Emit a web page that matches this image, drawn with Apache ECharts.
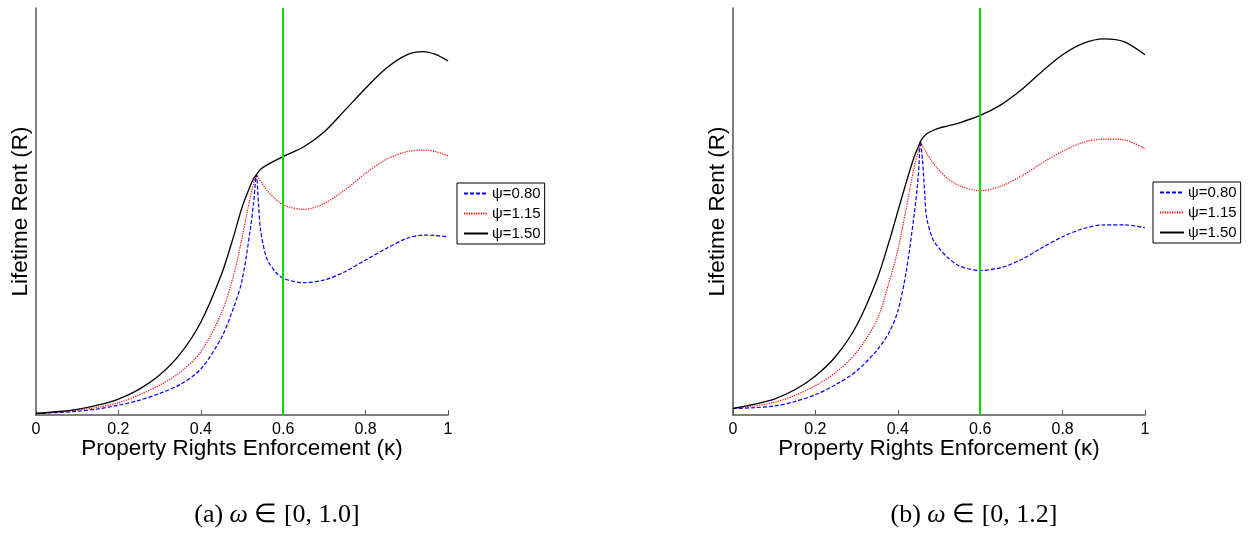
<!DOCTYPE html>
<html>
<head>
<meta charset="utf-8">
<script src="https://cdn.jsdelivr.net/npm/echarts@6/dist/echarts.min.js"></script>
<style>
  html, body { margin: 0; padding: 0; background: #fff; }
  #main { width: 1252px; height: 539px; }
</style>
</head>
<body>
<div id="main"></div>
<script>
// panel (a): omega in [0, 1.0]
var kappaA = [0, 0.05, 0.1, 0.15, 0.2, 0.25, 0.3, 0.35, 0.4, 0.45, 0.48, 0.5, 0.52, 0.528, 0.535, 0.54, 0.545, 0.56, 0.58, 0.6, 0.65, 0.7, 0.75, 0.8, 0.85, 0.9, 0.94, 0.97, 1];
var a080 = [0.4, 0.6, 0.9, 1.5, 2.4, 3.6, 5.3, 7.5, 11.3, 19, 26.5, 33, 45.5, 52, 59, 52, 45.5, 38.5, 35.3, 33.6, 32.5, 33.2, 35.2, 38.1, 40.9, 43.4, 44.2, 44.1, 43.8];
var a115 = [0.4, 0.7, 1.2, 1.9, 3.0, 4.9, 7.3, 10.5, 15.5, 25, 34.5, 43.5, 53.5, 56.8, 59, 58.3, 57.5, 55.3, 53.2, 51.6, 50.5, 52.0, 55.3, 59.4, 62.8, 64.7, 65.1, 64.7, 63.7];
var a150 = [0.4, 0.8, 1.4, 2.4, 3.9, 6.3, 9.8, 15, 22.8, 34.5, 44, 51, 56.3, 58, 59, 59.8, 60.4, 61.4, 62.5, 63.5, 65.9, 69.6, 74.9, 80.3, 85.2, 88.5, 89.3, 88.6, 87.0];

// panel (b): omega in [0, 1.2]
var kappaB = [0, 0.05, 0.1, 0.15, 0.2, 0.25, 0.3, 0.35, 0.38, 0.4, 0.42, 0.44, 0.45, 0.455, 0.46, 0.465, 0.47, 0.485, 0.5, 0.52, 0.55, 0.6, 0.65, 0.7, 0.75, 0.8, 0.85, 0.9, 0.95, 1];
var b080 = [1.6, 1.8, 2.2, 3.3, 5.0, 7.5, 10.8, 16, 20.5, 25.5, 35, 49.5, 59, 67.2, 62.5, 55, 48.5, 43.2, 41, 38.8, 36.6, 35.5, 36.2, 38.2, 41.1, 43.8, 45.8, 46.7, 46.7, 46.0];
var b115 = [1.6, 2.2, 3.1, 4.8, 7.2, 10.5, 15.4, 23.5, 33, 40.5, 50.5, 61, 64.8, 67.2, 66, 65.2, 64.3, 62, 60.2, 58.2, 56.3, 55.1, 56.2, 58.7, 61.9, 64.8, 67.0, 67.8, 67.6, 65.4];
var b150 = [1.6, 2.6, 3.9, 6.2, 9.6, 14.5, 22, 33.5, 43, 50, 57, 63.5, 66, 67.2, 68, 68.6, 69.1, 69.9, 70.5, 71, 71.8, 73.6, 76.2, 79.9, 84.4, 88.5, 91.3, 92.4, 91.7, 88.5];

var names = ['ψ=0.80', 'ψ=1.15', 'ψ=1.50'];
var xTicks = [0, 0.2, 0.4, 0.6, 0.8, 1];
var vline = 0.6;
var captions = ['(a) ', '(b) '];
var ranges = ['[0, 1.0]', '[0, 1.2]'];

function pairs(xs, ys) {
  var out = [];
  for (var i = 0; i < xs.length; i++) out.push([xs[i], ys[i]]);
  return out;
}

var styles = [
  { color: '#0000ff', type: [4, 2], width: 1.2 },
  { color: '#ff0000', type: [1.2, 1.2], width: 1.2 },
  { color: '#000000', type: 'solid', width: 1.3 }
];

function makeSeries(idx, xs, list) {
  var out = [];
  for (var i = 0; i < list.length; i++) {
    out.push({
      name: names[i],
      type: 'line',
      xAxisIndex: idx,
      yAxisIndex: idx,
      data: pairs(xs, list[i]),
      symbol: 'none',
      smooth: 0.3,
      lineStyle: styles[i],
      itemStyle: { color: styles[i].color },
      z: 3
    });
  }
  // green reference line
  out[0].markLine = {
    silent: true,
    symbol: ['none', 'none'],
    label: { show: false },
    lineStyle: { color: '#00e000', width: 2, type: 'solid' },
    data: [{ xAxis: vline }]
  };
  return out;
}

function xAxisOpt(idx) {
  return {
    gridIndex: idx,
    type: 'value',
    min: 0, max: 1, interval: 0.2,
    name: 'Property Rights Enforcement (κ)',
    nameLocation: 'middle',
    nameGap: 22,
    nameMoveOverlap: false,
    nameTextStyle: { fontFamily: 'Liberation Sans', fontSize: 22.5, color: '#000' },
    axisLine: { lineStyle: { color: '#555', width: 1.5 } },
    axisTick: { inside: true, length: 5, lineStyle: { color: '#555' } },
    axisLabel: {
      fontFamily: 'Liberation Sans', fontSize: 16, color: '#000', margin: 7,
      formatter: function (v) { return xTicks.indexOf(v) >= 0 ? String(v) : ''; }
    },
    splitLine: { show: false }
  };
}

function yAxisOpt(idx) {
  return {
    gridIndex: idx,
    type: 'value',
    min: 0, max: 100,
    name: 'Lifetime Rent (R)',
    nameLocation: 'middle',
    nameGap: 4,
    nameMoveOverlap: false,
    nameTextStyle: { fontFamily: 'Liberation Sans', fontSize: 22.5, color: '#000', verticalAlign: 'bottom' },
    axisLine: { show: true, lineStyle: { color: '#555', width: 1.5 } },
    axisTick: { show: false },
    axisLabel: { show: false },
    splitLine: { show: false }
  };
}

function legendOpt(left, top) {
  return {
    data: names,
    orient: 'vertical',
    left: left,
    top: top,
    itemWidth: 24,
    itemHeight: 12,
    itemGap: 5,
    padding: [3, 4, 3, 6],
    borderColor: '#000',
    borderWidth: 1,
    borderRadius: 0,
    backgroundColor: '#fff',
    itemStyle: { opacity: 0 },
    textStyle: { fontFamily: 'Liberation Sans', fontSize: 15, color: '#000', padding: [0, 0, 0, -1] },
    selectedMode: false
  };
}

function captionText(i, cx) {
  return {
    type: 'text',
    x: cx,
    y: 515,
    style: {
      text: captions[i] + '{it|ω} ∈ ' + ranges[i],
      font: '26px "Liberation Serif", serif',
      fill: '#000',
      align: 'center',
      verticalAlign: 'middle',
      rich: {
        it: { font: 'italic 26px "Liberation Serif", serif', fill: '#000' }
      }
    }
  };
}

var chart = echarts.init(document.getElementById('main'), null, { renderer: 'canvas' });
chart.setOption({
  animation: false,
  backgroundColor: '#fff',
  grid: [
    { left: 36, top: 8, width: 412, height: 407 },
    { left: 733, top: 8, width: 412, height: 407 }
  ],
  xAxis: [xAxisOpt(0), xAxisOpt(1)],
  yAxis: [yAxisOpt(0), yAxisOpt(1)],
  legend: [legendOpt(457, 183), legendOpt(1153, 182)],
  series: makeSeries(0, kappaA, [a080, a115, a150]).concat(makeSeries(1, kappaB, [b080, b115, b150])),
  graphic: [captionText(0, 277), captionText(1, 974)]
});
</script>
</body>
</html>
